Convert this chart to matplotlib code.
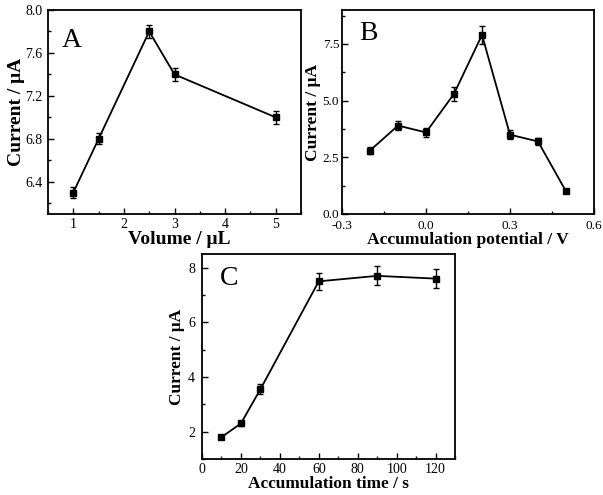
import matplotlib
matplotlib.use("Agg")
import matplotlib.pyplot as plt
from matplotlib.ticker import AutoMinorLocator

plt.rcParams['font.family'] = ['Liberation Serif', 'DejaVu Serif']

# Panel A
vol = [1, 1.5, 2.5, 3, 5]
cur_a = [6.3, 6.8, 7.8, 7.4, 7.0]
err_a = [0.05, 0.05, 0.06, 0.06, 0.06]

# Panel B
pot = [-0.2, -0.1, 0.0, 0.1, 0.2, 0.3, 0.4, 0.5]
cur_b = [2.8, 3.9, 3.6, 5.3, 7.9, 3.5, 3.2, 1.0]
err_b = [0.15, 0.2, 0.2, 0.3, 0.4, 0.2, 0.15, 0.05]

# Panel C
tim = [10, 20, 30, 60, 90, 120]
cur_c = [1.8, 2.3, 3.55, 7.5, 7.7, 7.6]
err_c = [0.05, 0.1, 0.18, 0.32, 0.35, 0.35]

W, H = 603, 495
fig = plt.figure(figsize=(W / 100, H / 100), dpi=100)


def make_ax(l, r, t, b):
    return fig.add_axes([l / W, 1 - b / H, (r - l) / W, (b - t) / H])


def style(ax, label, xlabel, tick_fs, lab_fs, ypad, xpad, ylp, lx, ly):
    for s in ax.spines.values():
        s.set_linewidth(1.3)
    ax.tick_params(which='both', direction='in', top=False, right=False,
                   labelsize=tick_fs)
    ax.tick_params(axis='y', pad=ypad)
    ax.tick_params(axis='x', pad=xpad)
    ax.tick_params(which='major', length=4, width=1.0)
    ax.tick_params(which='minor', length=2.5, width=1.0)
    ax.xaxis.set_minor_locator(AutoMinorLocator(2))
    ax.yaxis.set_minor_locator(AutoMinorLocator(2))
    ax.set_ylabel('Current / μA', fontsize=lab_fs, fontweight='bold', labelpad=ylp)
    ax.set_xlabel(xlabel, fontsize=lab_fs, fontweight='bold', labelpad=0)
    ax.text(lx, ly, label, transform=ax.transAxes, fontsize=20,
            va='top', ha='left')


def plot(ax, x, y, e):
    ax.errorbar(x, y, yerr=e, color='black', lw=1.3, marker='s', ms=5,
                capsize=2.5, elinewidth=1.0, capthick=1.0)


axA = make_ax(48, 301, 10, 214)
plot(axA, vol, cur_a, err_a)
axA.set_xlim(0.5, 5.5)
axA.set_ylim(6.1, 8.0)
axA.set_xticks([1, 2, 3, 4, 5])
axA.set_yticks([6.4, 6.8, 7.2, 7.6, 8.0])
style(axA, 'A', 'Volume / μL', 10, 14, 4, 3, 0, 0.055, 0.91)
axA.xaxis.label.set_x(0.52)

axB = make_ax(342, 594, 10, 214)
plot(axB, pot, cur_b, err_b)
axB.set_xlim(-0.3, 0.6)
axB.set_ylim(0, 9.0)
axB.set_xticks([-0.3, 0.0, 0.3, 0.6])
axB.set_xticklabels(['-0.3', '0.0', '0.3', '0.6'])
axB.set_yticks([0.0, 2.5, 5.0, 7.5])
axB.set_yticklabels(['0.0', '2.5', '5.0', '7.5'])
style(axB, 'B', 'Accumulation potential / V', 9.5, 12.6, 2, 4, 1, 0.07, 0.945)

axC = make_ax(202, 455, 254, 459)
plot(axC, tim, cur_c, err_c)
axC.set_xlim(0, 130)
axC.set_ylim(1.0, 8.5)
axC.set_xticks([0, 20, 40, 60, 80, 100, 120])
axC.set_yticks([2, 4, 6, 8])
style(axC, 'C', 'Accumulation time / s', 10, 12.4, 5, 3, 2, 0.07, 0.94)

fig.savefig('out.png', dpi=100)
